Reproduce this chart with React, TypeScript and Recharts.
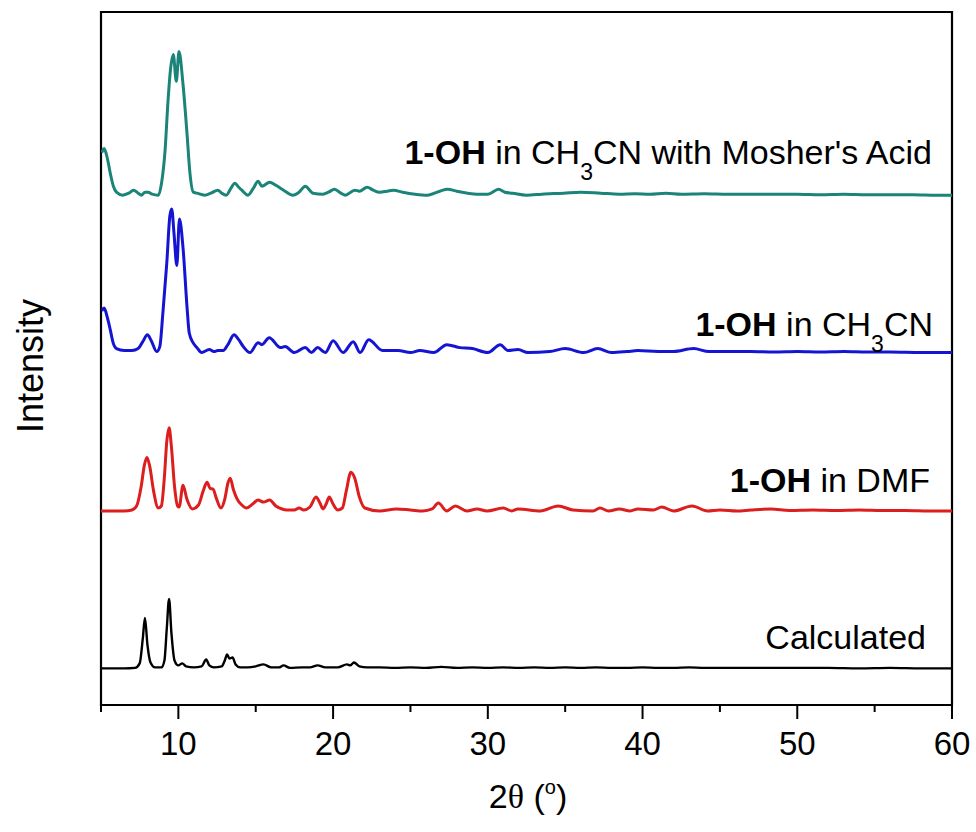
import { Line, LineChart, ReferenceArea, XAxis, YAxis } from "recharts";

// 2θ axis
const X_TICKS = [5, 10, 15, 20, 25, 30, 35, 40, 45, 50, 55, 60];

// [2θ, intensity above its own baseline] (a.u.)
const CALCULATED: [number, number][] = [
  [5, 0], [6.5, 0], [7.2, 0.5], [7.5, 5], [7.7, 30], [7.84, 51], [8.0, 24], [8.2, 6], [8.5, 1],
  [8.9, 1], [9.1, 8], [9.25, 40], [9.4, 70], [9.55, 36], [9.75, 8], [10.0, 3], [10.25, 5],
  [10.5, 2], [11.0, 1], [11.5, 2], [11.8, 9], [12.0, 3], [12.3, 1], [12.8, 2], [13.0, 8],
  [13.15, 14], [13.3, 10], [13.5, 11], [13.7, 4], [14.0, 1], [14.5, 1], [15.0, 2], [15.5, 4],
  [16.0, 1], [16.5, 1], [16.8, 3], [17.2, 0.5], [18.0, 1], [18.5, 1], [19.0, 3], [19.5, 1],
  [20.3, 1], [20.9, 4], [21.1, 3], [21.35, 6], [21.7, 2], [22.2, 1], [23, 1], [24, 0.5],
  [25, 1], [26, 0.5], [27, 1.5], [28, 0.5], [29, 1], [30, 0.5], [31, 1], [32, 0.5], [33, 1],
  [34, 0.5], [35, 1], [36, 0.5], [37, 1], [38, 0.5], [39, 0.5], [40, 1], [41, 0.5], [42, 0.5],
  [43, 1], [44, 0.5], [45, 0.5], [46, 0.5], [47, 0.5], [48, 0.5], [49, 0.5], [50, 0.5],
  [52, 0.5], [54, 0], [56, 0.5], [58, 0], [60, 0],
];

const DMF: [number, number][] = [
  [5, 0], [6.5, 0], [7.0, 1], [7.3, 5], [7.6, 25], [7.8, 46], [7.97, 54], [8.15, 45],
  [8.4, 20], [8.7, 3], [8.9, 5], [9.1, 35], [9.25, 70], [9.4, 84], [9.55, 65], [9.75, 25],
  [9.95, 5], [10.05, 4], [10.3, 26], [10.55, 12], [10.9, 2], [11.3, 6], [11.6, 20],
  [11.85, 29], [12.05, 23], [12.25, 22], [12.45, 13], [12.75, 3], [13.0, 12], [13.2, 28],
  [13.35, 33], [13.55, 22], [13.8, 12], [14.1, 6], [14.4, 3], [14.8, 7], [15.15, 11],
  [15.5, 9], [15.9, 11], [16.3, 5], [16.7, 2], [17.0, 1], [17.5, 1], [17.8, 3], [18.1, 1],
  [18.5, 4], [18.9, 14], [19.15, 8], [19.35, 2], [19.55, 7], [19.75, 14], [20.0, 7],
  [20.3, 1], [20.6, 3], [20.85, 20], [21.15, 39], [21.4, 33], [21.7, 14], [22.05, 3],
  [23.0, 0], [24.1, 2], [25.0, 1], [25.8, 0], [26.4, 2], [26.8, 8], [27.35, 0], [27.9, 5],
  [28.65, 0], [29.3, 2], [29.95, 0], [31.0, 3], [31.55, 0], [31.95, 2], [33.4, 0], [34.55, 5],
  [35.5, 1], [36.8, 0], [37.25, 3], [37.8, 0], [38.5, 2], [39.2, 0], [39.7, 2], [40.7, 1],
  [41.25, 4], [42.0, 0], [43.2, 5], [44.2, 0], [45.0, 1], [46.1, 0], [47, 1], [48.3, 2],
  [49.5, 0.5], [51, 1], [52.5, 0.5], [54, 1], [55.5, 0.5], [57, 0.5], [58.5, 0], [60, 0],
];

const CH3CN: [number, number][] = [
  [5.05, 42], [5.2, 45], [5.4, 36], [5.6, 23], [5.8, 9], [6.0, 4], [6.5, 2], [7.0, 2],
  [7.4, 4], [7.7, 11], [8.0, 18], [8.25, 12], [8.6, 1], [8.8, 6], [9.0, 40], [9.25, 90],
  [9.45, 138], [9.57, 145], [9.72, 120], [9.9, 88], [10.07, 135], [10.3, 106], [10.56, 46],
  [10.7, 20], [10.95, 10], [11.2, 5], [11.5, 0], [12.0, 3], [12.3, 1], [12.55, 2], [12.9, 2],
  [13.2, 8], [13.6, 18], [13.9, 13], [14.2, 6], [14.63, 0], [15.15, 10], [15.4, 8],
  [15.87, 15], [16.6, 5], [16.9, 6], [17.5, 0], [18.2, 5], [18.6, 0], [19.0, 5], [19.5, 0],
  [20.0, 12], [20.65, 0], [21.3, 11], [21.75, 0], [22.3, 13], [23.2, 2], [24.2, 2],
  [25.0, 0], [25.6, 2], [26.5, 0], [27.35, 8], [28.2, 5], [29.0, 4], [30.0, 0], [30.8, 8],
  [31.3, 2], [31.95, 3], [32.6, 0], [34.0, 1], [35.0, 4], [36.2, 0], [37.1, 4], [38.0, 0],
  [39.0, 1], [39.7, 2], [41, 1], [42, 1], [43.3, 4], [44.3, 1], [45.5, 1], [47, 1],
  [48.5, 0.5], [50, 1], [51.5, 0.5], [53, 1], [54.5, 0.5], [56, 0.5], [58, 0], [60, 0],
];

const MOSHER: [number, number][] = [
  [5.05, 43], [5.2, 47], [5.4, 38], [5.6, 22], [5.8, 9], [6.0, 3], [6.4, 0], [6.8, 2],
  [7.1, 5], [7.4, 2], [7.6, 0], [7.85, 3], [8.05, 3], [8.3, 1], [8.7, 0], [8.94, 15],
  [9.14, 45], [9.33, 95], [9.5, 128], [9.67, 142], [9.87, 115], [10.04, 145], [10.3, 112],
  [10.56, 62], [10.75, 22], [10.97, 3], [11.2, 2], [11.7, 0], [12.1, 2], [12.55, 5],
  [12.8, 2], [13.1, 0], [13.4, 7], [13.65, 12], [13.9, 8], [14.1, 5], [14.5, 0], [14.85, 7],
  [15.15, 14], [15.4, 9], [15.9, 13], [16.3, 10], [16.8, 5], [17.4, 0], [17.8, 3],
  [18.2, 9], [18.7, 2], [19.35, 1], [19.7, 3], [20.1, 6], [20.5, 2], [20.8, 0], [21.4, 5],
  [21.7, 4], [22.2, 8], [22.6, 5], [23.0, 3], [23.5, 4], [23.9, 5], [24.5, 3], [25.3, 1],
  [26.1, 0], [26.9, 4], [27.4, 6], [28.0, 4], [28.7, 2], [29.3, 1], [30.0, 1], [30.7, 6],
  [31.1, 3], [31.6, 2], [32.5, 0], [33.5, 1], [34.9, 2], [36, 3], [37.3, 2], [38.5, 1],
  [39.5, 1.5], [40.5, 1], [41.5, 2], [42.5, 1], [44, 1.5], [45.5, 1], [47, 1], [48.5, 1],
  [50, 1], [51.5, 0.5], [53, 1], [54.5, 0.5], [56, 0.5], [57.5, 0.5], [59, 0], [60, 0],
];

// vertical stacking offset for each pattern
const OFFSET_CALCULATED = 37;
const OFFSET_DMF = 196;
const OFFSET_CH3CN = 356;
const OFFSET_MOSHER = 515;

const toPoints = (rows: [number, number][], offset: number) =>
  rows.map(([x, y]) => ({ x, y: y + offset }));

const FONT = "Arial, 'Liberation Sans', sans-serif";

function XTick(props: any) {
  const { x, y, payload } = props;
  const major = payload.value % 10 === 0;
  return (
    <g>
      <line x1={x} y1={y} x2={x} y2={y + (major ? 14 : 7)} stroke="#000" strokeWidth={2} />
      {major && (
        <text x={x} y={y + 50} textAnchor="middle" fontSize={33} fontFamily={FONT} fill="#000">
          {payload.value}
        </text>
      )}
    </g>
  );
}

function SeriesLabel({ x, y, children }: { x: number; y: number; children: any }) {
  return (
    <text x={x} y={y} textAnchor="end" fontSize={34} fontFamily={FONT} fill="#000">
      {children}
    </text>
  );
}

export default function App() {
  return (
    <div style={{ position: "relative", width: 976, height: 832, background: "#fff" }}>
      <style>{`body{margin:0}`}</style>
      <LineChart
        width={976}
        height={832}
        margin={{ top: 12, right: 24, left: 101, bottom: 87 }}
      >
        <XAxis
          type="number"
          dataKey="x"
          domain={[5, 60]}
          ticks={X_TICKS}
          allowDataOverflow
          tickSize={0}
          tickMargin={0}
          tick={<XTick />}
          axisLine={false}
          tickLine={false}
          height={40}
          interval={0}
        />
        <YAxis type="number" domain={[0, 700]} hide allowDataOverflow />
        <ReferenceArea
          x1={5}
          x2={60}
          y1={0}
          y2={700}
          fill="none"
          fillOpacity={0}
          stroke="#000"
          strokeOpacity={1}
          strokeWidth={2.2}
          ifOverflow="visible"
        />
        <Line
          data={toPoints(CALCULATED, OFFSET_CALCULATED)}
          dataKey="y"
          type="monotone"
          stroke="#000000"
          strokeWidth={2.4}
          dot={false}
          isAnimationActive={false}
        />
        <Line
          data={toPoints(DMF, OFFSET_DMF)}
          dataKey="y"
          type="monotone"
          stroke="#dc1e1e"
          strokeWidth={3}
          dot={false}
          isAnimationActive={false}
        />
        <Line
          data={toPoints(CH3CN, OFFSET_CH3CN)}
          dataKey="y"
          type="monotone"
          stroke="#1414d2"
          strokeWidth={3}
          dot={false}
          isAnimationActive={false}
        />
        <Line
          data={toPoints(MOSHER, OFFSET_MOSHER)}
          dataKey="y"
          type="monotone"
          stroke="#1b8479"
          strokeWidth={3}
          dot={false}
          isAnimationActive={false}
        />
      </LineChart>
      <svg
        width={976}
        height={832}
        style={{ position: "absolute", left: 0, top: 0, pointerEvents: "none" }}
      >
        <SeriesLabel x={932} y={164}>
          <tspan fontWeight="bold">1-OH</tspan>
          <tspan> in CH</tspan>
          <tspan fontSize={23} dy={16}>3</tspan>
          <tspan dy={-16}>CN with Mosher's Acid</tspan>
        </SeriesLabel>
        <SeriesLabel x={933} y={336}>
          <tspan fontWeight="bold">1-OH</tspan>
          <tspan> in CH</tspan>
          <tspan fontSize={23} dy={16}>3</tspan>
          <tspan dy={-16}>CN</tspan>
        </SeriesLabel>
        <SeriesLabel x={930} y={492}>
          <tspan fontWeight="bold">1-OH</tspan>
          <tspan> in DMF</tspan>
        </SeriesLabel>
        <SeriesLabel x={926} y={649}>
          Calculated
        </SeriesLabel>
        <text
          x={0}
          y={0}
          transform="translate(43 366) rotate(-90)"
          textAnchor="middle"
          fontSize={36}
          fontFamily={FONT}
          fill="#000"
        >
          Intensity
        </text>
        <text x={528} y={808} textAnchor="middle" fontSize={34} fontFamily={FONT} fill="#000">
          2<tspan fontFamily="'Liberation Serif', 'DejaVu Serif', serif">θ</tspan> (
          <tspan fontSize={20} dy={-14}>o</tspan>
          <tspan dy={14}>)</tspan>
        </text>
      </svg>
    </div>
  );
}
